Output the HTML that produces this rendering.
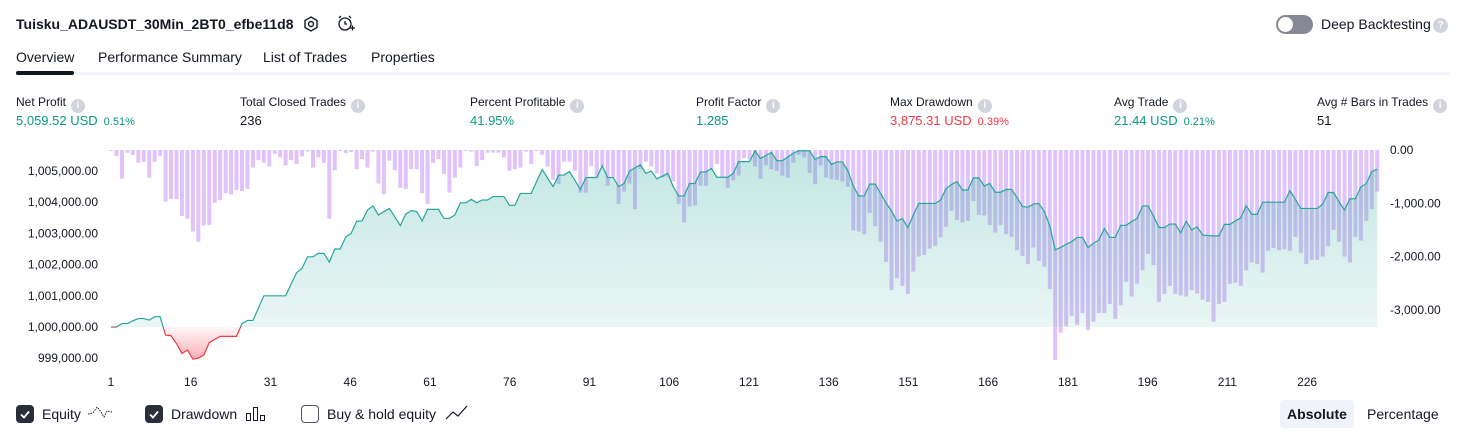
<!DOCTYPE html>
<html><head><meta charset="utf-8">
<style>
*{box-sizing:border-box;margin:0;padding:0}
body{width:1466px;height:438px;background:#fff;font-family:"Liberation Sans",sans-serif;color:#131722;position:relative;overflow:hidden}
.a{position:absolute;white-space:nowrap}
.lbl{font-size:12px;color:#131722;top:95px}
.val{font-size:13px;top:113px}
.g{color:#089981}.r{color:#f23645}
.pct{font-size:11px;margin-left:6px}
.info{display:inline-block;width:14px;height:14px;border-radius:50%;background:#d1d4dc;color:#fff;font-size:10px;font-weight:bold;text-align:center;line-height:14px;margin-left:5px;vertical-align:-2px}
.tab{font-size:14px;top:49px;color:#131722}
.cb{width:18px;height:18px;border-radius:4px;top:405px}
.leg{font-size:14px;top:406px}
</style></head><body>
<div class="a" style="left:16px;top:16px;font-size:14px;font-weight:bold">Tuisku_ADAUSDT_30Min_2BT0_efbe11d8</div>
<svg class="a" style="left:302px;top:15px" width="18" height="18" viewBox="0 0 18 18"><polygon points="9,2 15,5.5 15,12.5 9,16 3,12.5 3,5.5" fill="none" stroke="#131722" stroke-width="1.4"/><circle cx="9" cy="9" r="2.5" fill="none" stroke="#131722" stroke-width="1.4"/></svg>
<svg class="a" style="left:336px;top:14px" width="20" height="20" viewBox="0 0 20 20"><circle cx="9" cy="10" r="6" fill="none" stroke="#131722" stroke-width="1.3"/><path d="M9 7v3h2M3 4l2-2M15 4l-2-2M14 14h5M16.5 11.5v5" fill="none" stroke="#131722" stroke-width="1.3"/></svg>
<div class="a" style="left:1276px;top:15px;width:37px;height:19px;border-radius:10px;background:#868993"><div style="position:absolute;left:2px;top:2px;width:15px;height:15px;border-radius:50%;background:#fff"></div></div>
<div class="a" style="left:1321px;top:16px;font-size:14px">Deep Backtesting</div>
<div class="a info" style="left:1428px;top:18px;width:15px;height:15px;line-height:15px">?</div>
<div class="a tab" style="left:16px">Overview</div>
<div class="a tab" style="left:98px">Performance Summary</div>
<div class="a tab" style="left:263px">List of Trades</div>
<div class="a tab" style="left:371px">Properties</div>
<div class="a" style="left:16px;top:72px;width:1433px;height:3px;background:#f0f3fa"></div>
<div class="a" style="left:16px;top:71px;width:58px;height:4px;border-radius:2px;background:#131722"></div>

<div class="a lbl" style="left:16px">Net Profit<span class="info">i</span></div>
<div class="a val g" style="left:16px">5,059.52 USD<span class="pct">0.51%</span></div>
<div class="a lbl" style="left:240px">Total Closed Trades<span class="info">i</span></div>
<div class="a val" style="left:240px">236</div>
<div class="a lbl" style="left:470px">Percent Profitable<span class="info">i</span></div>
<div class="a val g" style="left:470px">41.95%</div>
<div class="a lbl" style="left:696px">Profit Factor<span class="info">i</span></div>
<div class="a val g" style="left:696px">1.285</div>
<div class="a lbl" style="left:890px">Max Drawdown<span class="info">i</span></div>
<div class="a val r" style="left:890px">3,875.31 USD<span class="pct">0.39%</span></div>
<div class="a lbl" style="left:1114px">Avg Trade<span class="info">i</span></div>
<div class="a val g" style="left:1114px">21.44 USD<span class="pct">0.21%</span></div>
<div class="a lbl" style="left:1317px">Avg # Bars in Trades<span class="info">i</span></div>
<div class="a val" style="left:1317px">51</div>

<svg id="chart" class="a" style="left:0;top:0" width="1466" height="400"></svg>

<div class="a cb" style="left:16px;background:#2a2e39"><svg width="18" height="18"><path d="M5 9.5l3 3 5-6" stroke="#fff" stroke-width="1.8" fill="none"/></svg></div>
<div class="a leg" style="left:42px">Equity</div>
<svg class="a" style="left:87px;top:404px" width="26" height="18"><path d="M1 10l5-1 4-6 4 5 3 5 3-6 5 1" stroke="#131722" stroke-width="1" stroke-dasharray="1.5 1.2" fill="none"/></svg>
<div class="a cb" style="left:145px;background:#2a2e39"><svg width="18" height="18"><path d="M5 9.5l3 3 5-6" stroke="#fff" stroke-width="1.8" fill="none"/></svg></div>
<div class="a leg" style="left:171px">Drawdown</div>
<svg class="a" style="left:245px;top:405px" width="22" height="18"><rect x="1.5" y="8.5" width="4" height="7" fill="none" stroke="#131722"/><rect x="8.5" y="2.5" width="4" height="13" fill="none" stroke="#131722"/><rect x="15.5" y="10.5" width="4" height="5" fill="none" stroke="#131722"/></svg>
<div class="a cb" style="left:301px;border:1px solid #50535e;background:#fff"></div>
<div class="a leg" style="left:327px">Buy &amp; hold equity</div>
<svg class="a" style="left:445px;top:404px" width="24" height="18"><path d="M1 15l7-7 5 4 9-10" stroke="#131722" stroke-width="1.2" fill="none"/></svg>
<div class="a" style="left:1280px;top:400px;width:74px;height:28px;border-radius:4px;background:#f0f3fa;font-size:14px;font-weight:bold;text-align:center;line-height:28px">Absolute</div>
<div class="a" style="left:1367px;top:406px;font-size:14px">Percentage</div>

<script>
// Equity profit in thousands USD (equity = 1,000,000 + value*1000), per plotted point
const equityK = [0,0,0.11,0.11,0.2,0.27,0.27,0.22,0.33,0.33,
-0.26,-0.28,-0.53,-0.85,-0.74,-1.03,-1.0,-0.9,-0.5,-0.4,
-0.3,-0.3,-0.3,-0.3,0.11,0.21,0.21,0.6,1.0,1.0,
1.0,1.0,1.0,1.38,1.74,1.88,2.25,2.25,2.36,2.36,
2.08,2.5,2.5,2.88,3.0,3.39,3.4,3.75,3.88,3.59,
3.7,3.8,3.53,3.25,3.62,3.73,3.7,3.4,3.77,3.77,
3.77,3.48,3.48,3.59,3.98,3.98,4.09,3.98,4.07,4.07,
4.18,4.18,4.18,3.9,3.9,4.28,4.28,4.28,4.67,5.05,
4.77,4.5,4.87,4.87,4.98,4.7,4.41,4.79,4.79,4.79,
5.17,4.79,4.79,4.5,4.6,5.0,5.1,5.2,4.92,5.0,
4.75,4.83,4.93,4.5,4.2,4.2,4.6,4.6,4.97,4.97,
5.08,4.8,4.8,4.8,4.92,5.3,5.3,5.3,5.65,5.4,
5.5,5.59,5.33,5.33,5.45,5.57,5.65,5.65,5.65,5.37,
5.46,5.46,5.21,5.29,5.29,5.01,
4.52,4.2,4.2,4.58,4.58,4.28,3.98,3.72,3.4,3.47,
3.19,3.59,3.96,3.96,3.96,3.96,4.07,4.44,4.57,4.66,
4.39,4.39,4.78,4.78,4.52,4.6,4.32,4.32,4.41,4.41,
4.15,3.86,3.84,3.94,3.96,
3.7,3.24,2.47,2.55,2.65,2.73,2.87,2.87,2.55,2.68,
2.79,3.16,2.87,2.87,3.26,3.26,3.38,3.48,3.88,3.88,
3.56,3.19,3.19,3.3,3.3,3.02,3.39,3.11,3.21,2.95,
2.93,2.92,2.92,3.29,3.29,3.4,3.5,3.89,3.61,3.61,
4.0,4.0,4.0,4.0,4.0,4.37,4.09,3.8,3.8,3.8,
3.8,3.94,4.31,4.31,4.01,3.75,4.11,4.11,4.49,4.6,4.98,5.06];
// Drawdown per point in thousands USD (positive magnitude)
const drawdownK = [0.01,0.11,0.54,0.05,0.09,0.24,0.22,0.52,0.22,0.11,
0.97,0.92,0.92,1.24,1.29,1.53,1.72,1.42,1.41,0.99,
0.94,0.81,0.83,0.75,0.77,0.73,0.33,0.19,0.24,0.31,
0.07,0.14,0.29,0.19,0.26,0.12,0.03,0.33,0.14,0.24,
1.29,0.38,0.01,0.06,0.04,0.36,0.17,0.33,0.03,0.63,
0.83,0.2,0.38,0.71,0.73,0.36,0.36,0.81,
1.01,0.24,0.17,0.45,0.8,0.52,0.33,0.01,0.03,0.3,
0.19,0.05,0.05,0.05,0.14,0.39,0.36,0.33,0.03,0.26,
0.01,0.09,0.31,0.56,0.64,0.22,0.22,0.39,0.8,0.8,
0.3,0.52,0.3,0.67,0.52,1.01,0.78,0.63,1.11,0.36,
0.22,0.31,0.44,0.51,0.5,0.59,1.01,1.36,1.06,1.04,
0.67,0.67,0.38,0.26,0.5,0.71,0.57,
0.48,0.15,0.18,0.31,0.54,0.29,0.36,0.39,0.48,0.52,
0.24,0.09,0.14,0.43,0.64,0.29,0.52,0.55,0.56,0.59,
0.69,1.51,1.53,1.58,1.18,1.43,1.72,2.1,2.63,2.41,
2.55,2.7,2.28,2.0,1.97,1.85,1.8,1.64,1.44,1.14,
1.31,1.36,1.33,0.96,1.22,1.23,1.41,1.55,1.41,1.58,
1.63,1.88,1.99,2.14,1.83,2.08,2.19,
2.61,3.94,3.43,3.31,3.11,3.28,3.06,3.38,3.22,3.06,
3.06,2.89,3.17,2.91,2.47,2.75,2.51,2.26,1.95,2.16,
2.85,2.7,2.55,2.7,2.73,2.75,2.63,2.69,2.81,2.85,
3.22,2.89,2.85,2.51,2.49,2.55,2.26,2.11,2.14,2.3,
1.89,1.84,1.88,1.86,1.89,1.63,1.93,2.14,2.06,2.06,
2.0,1.81,1.5,1.72,2.0,2.11,1.63,1.7,1.33,1.11,0.78];
const xTicks = [1,16,31,46,61,76,91,106,121,136,151,166,181,196,211,226];
const equityTicks = [5,4,3,2,1,0,-1];
const equityTickLabels = ["1,005,000.00","1,004,000.00","1,003,000.00","1,002,000.00","1,001,000.00","1,000,000.00","999,000.00"];
const ddTicks = [0,1,2,3];
const ddTickLabels = ["0.00","-1,000.00","-2,000.00","-3,000.00"];

const NS="http://www.w3.org/2000/svg";
const svg=document.getElementById('chart');
function xs(i){return 111+(i-1)*5.458;}          // plotted point index -> x
function xTrade(t){return 111+(t-1)*5.316;}       // trade number -> x (axis labels)
function ye(v){return 327-v*31.2;}
function yd(v){return 150+v*53.3;}
function mk(tag,attrs){const e=document.createElementNS(NS,tag);for(const k in attrs)e.setAttribute(k,attrs[k]);return e;}

const defs=mk('defs',{});
defs.innerHTML='<linearGradient id="gg" x1="0" y1="150" x2="0" y2="327" gradientUnits="userSpaceOnUse"><stop offset="0" stop-color="#26a69a" stop-opacity="0.28"/><stop offset="1" stop-color="#26a69a" stop-opacity="0.1"/></linearGradient>'+
'<linearGradient id="rg" x1="0" y1="327" x2="0" y2="360" gradientUnits="userSpaceOnUse"><stop offset="0" stop-color="#f23645" stop-opacity="0.04"/><stop offset="1" stop-color="#f23645" stop-opacity="0.4"/></linearGradient>'+
'<clipPath id="above"><rect x="0" y="0" width="1466" height="327"/></clipPath><clipPath id="below"><rect x="0" y="327" width="1466" height="100"/></clipPath>';
svg.appendChild(defs);

const bars=mk('g',{});


drawdownK.forEach((d,k)=>{
  const x=xs(k+1);
  const r=mk('rect',{x:(x-2).toFixed(2),y:150,width:4,height:Math.max(1,yd(d)-150).toFixed(2),fill:'#e1c3fb'});
  
  
  bars.appendChild(r);
});
svg.appendChild(bars);

let pts=equityK.map((v,k)=>xs(k+1).toFixed(2)+','+ye(v).toFixed(2));
const n=equityK.length;
const areaD='M'+xs(1)+','+ye(0)+' L'+pts.join(' L')+' L'+xs(n).toFixed(2)+','+ye(0)+' Z';
const ga=mk('path',{d:areaD,fill:'url(#gg)','clip-path':'url(#above)'});


svg.appendChild(ga);
const ra=mk('path',{d:areaD,fill:'url(#rg)','clip-path':'url(#below)'});


svg.appendChild(ra);
const lineD='M'+pts.join(' L');
const gl=mk('path',{d:lineD,fill:'none',stroke:'#26a69a','stroke-width':1.2,'clip-path':'url(#above)'});


svg.appendChild(gl);
const rl=mk('path',{d:lineD,fill:'none',stroke:'#f23645','stroke-width':1.2,'clip-path':'url(#below)'});


svg.appendChild(rl);

function txt(x,y,s,anchor,name){
  const t=mk('text',{x:x,y:y,'font-size':12,'font-family':'Liberation Sans, sans-serif',fill:'#131722','text-anchor':anchor,'dominant-baseline':'central'});
  t.textContent=s;
  
  
  svg.appendChild(t);
}
equityTicks.forEach((v,k)=>txt(98,ye(v),equityTickLabels[k],'end','equity-axis-label'));
ddTicks.forEach((v,k)=>txt(1390,yd(v),ddTickLabels[k],'start','drawdown-axis-label'));
xTicks.forEach(v=>txt(xTrade(v),382,String(v),'middle','x-axis-label'));
</script>
</body></html>
